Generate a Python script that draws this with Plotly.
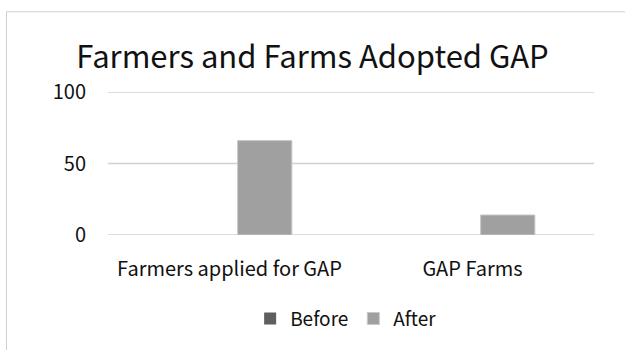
import plotly.graph_objects as go

# Chart data
categories = ["Farmers applied for GAP", "GAP Farms"]
before_values = [0, 0]
after_values = [66, 14]
y_ticks = [0, 50, 100]

FONT = "Noto Sans CJK KR"

W, H = 625, 350
L, R, T, B = 108, 31, 92, 111
plot_w = W - L - R
plot_h = H - T - B


def px_to_paper_x(px):
    return (px - L) / plot_w


def px_to_paper_y(py):
    return (H - B - py) / plot_h


fig = go.Figure()
fig.add_trace(go.Bar(name="Before", x=categories, y=before_values,
                     marker=dict(color="#5f5f5f", line=dict(width=0))))
fig.add_trace(go.Bar(name="After", x=categories, y=after_values,
                     marker=dict(color="#a0a0a0",
                                 line=dict(color="#c8c8c8", width=1))))

fig.update_layout(
    width=W, height=H,
    margin=dict(l=L, r=R, t=T, b=B, pad=0),
    paper_bgcolor="white", plot_bgcolor="white",
    barmode="group", bargap=0.42, bargroupgap=0.23,
    font=dict(family=FONT, color="#222222"),
    title=dict(text="Farmers and Farms Adopted GAP", x=0.5, xanchor="center",
               y=1 - 57 / H, yanchor="middle",
               font=dict(family=FONT, size=31, color="#111111")),
    legend=dict(orientation="h", x=0.49, xanchor="center",
                y=px_to_paper_y(325), yanchor="middle",
                font=dict(family=FONT, size=19, color="#111111"),
                itemwidth=30, traceorder="normal"),
    showlegend=True,
)
fig.update_yaxes(range=[0, 100], tickvals=y_ticks, showgrid=False,
                 zeroline=False, showline=False, ticks="", ticklabelstandoff=21,
                 tickfont=dict(family=FONT, size=20, color="#111111"))
fig.update_xaxes(showgrid=False, showline=False, ticks="", ticklabelstandoff=20,
                 tickfont=dict(family=FONT, size=20, color="#111111"))

# Horizontal gridlines at each y tick, drawn beneath the bars
for v in y_ticks:
    fig.add_shape(type="line", xref="paper", yref="y", x0=0, x1=1, y0=v, y1=v,
                  line=dict(color="#d0d0d0", width=1.3), layer="below")

# Chart frame border (partially visible)
fig.add_shape(type="rect", xref="paper", yref="paper",
              x0=px_to_paper_x(6.5), x1=px_to_paper_x(W + 20),
              y0=px_to_paper_y(H + 20), y1=px_to_paper_y(9.5),
              line=dict(color="#d0d0d0", width=1), fillcolor="rgba(0,0,0,0)",
              layer="below")

fig.write_html("out.html")
